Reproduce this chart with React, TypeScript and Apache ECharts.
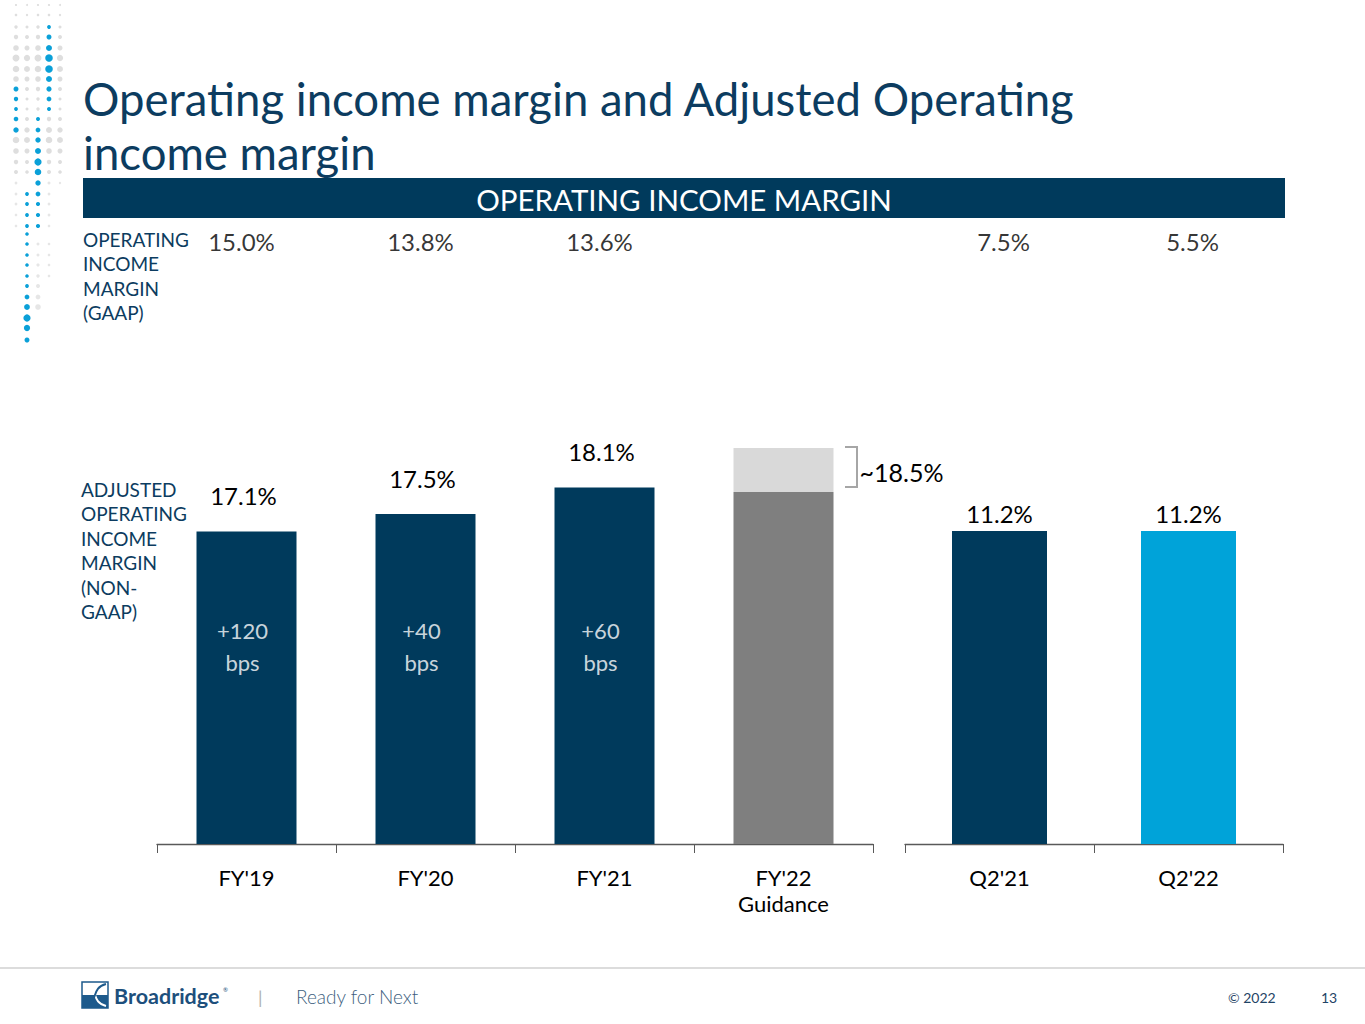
import React, { useEffect, useRef } from 'react';
import * as echarts from 'echarts';

// ---- data ----
const fyCategories = ["FY'19", "FY'20", "FY'21", "FY'22\nGuidance"];
const qCategories = ["Q2'21", "Q2'22"];
const gaapFy = [15.0, 13.8, 13.6, null];
const gaapQ = [7.5, 5.5];
const adjFy = [17.1, 17.5, 18.1, 18.0];
const guidanceHigh = 19.0;
const guidanceLabel = '~18.5%';
const adjQ = [11.2, 11.2];
const bpsChange = ['+120', '+40', '+60', null];

const NAVY = '#003a5c';
const TEXT_NAVY = '#0c3c60';
const FONT = 'Lato, "Open Sans", sans-serif';

// decorative dot pattern (top-left corner)
const blueDots: number[][] = [
  [49, 27, 1.9], [49, 37, 2.5], [49, 48, 3], [49, 58, 3.8], [49, 69, 3.8], [49, 79, 3], [49, 89, 2.6], [49, 99, 2.4], [49, 109, 2],
  [16, 89, 2.5], [16, 99, 2.2], [16, 109, 1.9], [16, 119, 2.3], [16, 130, 2.7],
  [38, 119, 2], [38, 130, 2.4], [38, 140, 2.7], [38, 151, 3], [38, 162, 3.6], [38, 172, 3.3], [38, 183, 2.7], [38, 194, 2.4], [38, 204, 2.1], [38, 215, 2.1], [38, 226, 2.1],
  [27, 194, 1.9], [27, 204, 1.9], [27, 215, 1.9], [27, 226, 1.9], [27, 234, 1.8], [27, 244, 1.8], [27, 255, 1.8], [27, 265, 1.8], [27, 276, 1.8], [27, 286, 1.9], [27, 297, 2.4], [27, 307, 2.9], [27, 318, 3.6], [27, 328, 3.1], [27, 340, 2.5],
];
const dotCols = [16, 27, 38, 49, 60];
const dotRows = [5, 15, 27, 37, 48, 58, 69, 79, 89, 99, 109, 119, 130, 140, 151, 162, 172];
const dotRowRadius = [1.1, 1.3, 1.7, 2.2, 2.8, 3.5, 3.3, 2.8, 2.2, 1.7, 1.7, 2.2, 3, 3.3, 2.8, 2.2, 2];
const extraGrayDots: number[][] = [
  [16, 183, 1.4], [16, 194, 1.4], [16, 204, 1.4], [16, 215, 1.3], [16, 226, 1.3],
  [49, 183, 1.5], [49, 194, 1.4], [49, 204, 1.4], [49, 215, 1.4], [49, 226, 1.3], [49, 244, 1.3], [49, 255, 1.3], [49, 265, 1.3], [49, 276, 1.3],
  [60, 183, 1.2], [38, 244, 1.5], [38, 255, 1.5], [38, 265, 1.6], [38, 276, 1.7], [38, 286, 2], [38, 297, 2.4], [38, 307, 2.8],
];

function dotGraphics() {
  const out: any[] = [];
  const isBlue = (x: number, y: number) => blueDots.some((d) => d[0] === x && d[1] === y);
  dotRows.forEach((y, i) => {
    dotCols.forEach((x) => {
      if (!isBlue(x, y)) {
        out.push({ type: 'circle', shape: { cx: x, cy: y, r: dotRowRadius[i] * (x === 27 || x === 60 ? 0.9 : 1) }, style: { fill: '#dedede' }, silent: true });
      }
    });
  });
  extraGrayDots.forEach((d) => out.push({ type: 'circle', shape: { cx: d[0], cy: d[1], r: d[2] }, style: { fill: '#e6e6e6' }, silent: true }));
  blueDots.forEach((d) => out.push({ type: 'circle', shape: { cx: d[0], cy: d[1], r: d[2] }, style: { fill: '#0aa0d8' }, silent: true }));
  return out;
}

const axisLabelStyle = { color: '#000', fontSize: 22, fontFamily: FONT, margin: 20, lineHeight: 26 };

export default function App() {
  const ref = useRef<HTMLDivElement>(null);

  useEffect(() => {
    document.body.style.margin = '0';
    if (!ref.current) return;
    const chart = echarts.init(ref.current, undefined, { renderer: 'svg' });

    const option: any = {
      animation: false,
      backgroundColor: '#fff',
      textStyle: { fontFamily: FONT },
      grid: [
        { left: 157, top: 404, width: 716, height: 440 },
        { left: 905, top: 397, width: 378, height: 447 },
        { left: 157, top: 226, width: 716, height: 30 },
        { left: 905, top: 226, width: 378, height: 30 },
      ],
      xAxis: [
        {
          gridIndex: 0, type: 'category', data: fyCategories,
          axisLine: { lineStyle: { color: '#595959', width: 1.3 } },
          axisTick: { show: true, length: 9, lineStyle: { color: '#595959' } },
          axisLabel: axisLabelStyle,
        },
        {
          gridIndex: 1, type: 'category', data: qCategories,
          axisLine: { lineStyle: { color: '#595959', width: 1.3 } },
          axisTick: { show: true, length: 9, lineStyle: { color: '#595959' } },
          axisLabel: axisLabelStyle,
        },
        { gridIndex: 2, type: 'category', data: fyCategories, show: false },
        { gridIndex: 3, type: 'category', data: qCategories, show: false },
      ],
      yAxis: [
        { gridIndex: 0, type: 'value', min: 10, max: 20, show: false },
        { gridIndex: 1, type: 'value', min: 0, max: 16, show: false },
        { gridIndex: 2, type: 'value', min: 0, max: 1, show: false },
        { gridIndex: 3, type: 'value', min: 0, max: 1, show: false },
      ],
      series: [
        {
          name: 'Adjusted FY', type: 'bar', xAxisIndex: 0, yAxisIndex: 0, stack: 'fy', barWidth: 100,
          data: adjFy.map((v, i) => ({
            value: v,
            itemStyle: { color: i === 3 ? '#7f7f7f' : NAVY },
            label: { show: i !== 3 },
          })),
          label: {
            show: true, position: 'top', distance: 24, offset: [-3, 0], color: '#000', fontSize: 24, fontFamily: FONT,
            formatter: (p: any) => `${p.value.toFixed(1)}%`,
          },
        },
        {
          name: 'Guidance range', type: 'bar', xAxisIndex: 0, yAxisIndex: 0, stack: 'fy', barWidth: 100,
          data: adjFy.map((v, i) => (i === 3 ? +(guidanceHigh - v).toFixed(1) : '-')),
          itemStyle: { color: '#d9d9d9' },
          label: {
            show: true, position: 'right', distance: 26, offset: [0, 2], color: '#000', fontSize: 25, fontFamily: FONT,
            formatter: () => guidanceLabel,
          },
        },
        {
          name: 'bps', type: 'scatter', xAxisIndex: 0, yAxisIndex: 0, symbolSize: 0,
          data: bpsChange.map((b) => (b ? 14.5 : '-')),
          label: {
            show: true, position: 'inside', offset: [-4, 0], color: '#fff', fontSize: 22, lineHeight: 32, fontFamily: FONT,
            formatter: (p: any) => `${bpsChange[p.dataIndex]}\nbps`,
          },
        },
        {
          name: 'Adjusted Q', type: 'bar', xAxisIndex: 1, yAxisIndex: 1, barWidth: 95,
          data: adjQ.map((v, i) => ({ value: v, itemStyle: { color: i === 0 ? NAVY : '#00a3d9' } })),
          label: {
            show: true, position: 'top', distance: 6, color: '#000', fontSize: 24, fontFamily: FONT,
            formatter: (p: any) => `${p.value.toFixed(1)}%`,
          },
        },
        {
          name: 'GAAP FY', type: 'scatter', xAxisIndex: 2, yAxisIndex: 2, symbolSize: 0,
          data: gaapFy.map((v, i) => (v == null ? '-' : [fyCategories[i], 0.5, v])),
          label: {
            show: true, position: 'inside', color: '#000', fontSize: 24, fontFamily: FONT, offset: [-5, 0],
            formatter: (p: any) => `${p.value[2].toFixed(1)}%`,
          },
        },
        {
          name: 'GAAP Q', type: 'scatter', xAxisIndex: 3, yAxisIndex: 3, symbolSize: 0,
          data: gaapQ.map((v, i) => [qCategories[i], 0.5, v]),
          label: {
            show: true, position: 'inside', color: '#000', fontSize: 24, fontFamily: FONT, offset: [4, 0],
            formatter: (p: any) => `${p.value[2].toFixed(1)}%`,
          },
        },
      ],
      graphic: [
        ...dotGraphics(),
        {
          type: 'text', left: 83, top: 71,
          style: { text: 'Operating income margin and Adjusted Operating\nincome margin', fill: TEXT_NAVY, font: `45.5px ${FONT}`, lineHeight: 54 },
        },
        { type: 'rect', shape: { x: 83, y: 178, width: 1202, height: 40 }, style: { fill: NAVY } },
        {
          type: 'text', x: 684, y: 199,
          style: { text: 'OPERATING INCOME MARGIN', fill: '#fff', font: `29.5px ${FONT}`, align: 'center', verticalAlign: 'middle' },
        },
        {
          type: 'text', left: 83, top: 227,
          style: { text: 'OPERATING\nINCOME\nMARGIN\n(GAAP)', fill: TEXT_NAVY, font: `19px ${FONT}`, lineHeight: 24.5 },
        },
        {
          type: 'text', left: 81, top: 477,
          style: { text: 'ADJUSTED\nOPERATING\nINCOME\nMARGIN\n(NON-\nGAAP)', fill: TEXT_NAVY, font: `19px ${FONT}`, lineHeight: 24.5 },
        },
        // bracket next to guidance range
        {
          type: 'polyline',
          shape: { points: [[845, 447], [857, 447], [857, 487], [845, 487]] },
          style: { stroke: '#a6a6a6', lineWidth: 2, fill: 'none' },
        },
        // footer
        { type: 'line', shape: { x1: 0, y1: 968, x2: 1365, y2: 968 }, style: { stroke: '#d0d0d0', lineWidth: 1.5 } },
        { type: 'rect', shape: { x: 82, y: 982, width: 26, height: 26 }, style: { fill: '#fff', stroke: '#1d5a8c', lineWidth: 1.5 } },
        { type: 'rect', shape: { x: 82, y: 995, width: 26, height: 13 }, style: { fill: '#1d5a8c' } },
        {
          type: 'bezierCurve',
          shape: { x1: 84, y1: 984, x2: 106, y2: 1006, cpx1: 100, cpy1: 988, cpx2: 90, cpy2: 1002 },
          style: { stroke: '#fff', lineWidth: 2, fill: 'none' },
        },
        {
          type: 'bezierCurve',
          shape: { x1: 106, y1: 984, x2: 84, y2: 1006, cpx1: 90, cpy1: 988, cpx2: 100, cpy2: 1002 },
          style: { stroke: '#1d5a8c', lineWidth: 2, fill: 'none' },
        },
        {
          type: 'text', x: 114, y: 996,
          style: { text: 'Broadridge', fill: '#1d4f7c', font: `bold 21.5px ${FONT}`, verticalAlign: 'middle' },
        },
        { type: 'text', x: 223, y: 989, style: { text: '®', fill: '#1d4f7c', font: `6px ${FONT}`, verticalAlign: 'middle' } },
        { type: 'text', x: 258, y: 997, style: { text: '|', fill: '#b0b0b0', font: `18px ${FONT}`, verticalAlign: 'middle' } },
        {
          type: 'text', x: 296, y: 996,
          style: { text: 'Ready for Next', fill: '#3e5f80', font: `300 19px ${FONT}`, verticalAlign: 'middle' },
        },
        { type: 'text', x: 1228, y: 997, style: { text: '© 2022', fill: '#1f4466', font: `14px ${FONT}`, verticalAlign: 'middle' } },
        { type: 'text', x: 1321, y: 997, style: { text: '13', fill: '#1f4466', font: `14px ${FONT}`, verticalAlign: 'middle' } },
      ],
    };

    chart.setOption(option);
    return () => chart.dispose();
  }, []);

  return <div ref={ref} style={{ width: 1365, height: 1024 }} />;
}
